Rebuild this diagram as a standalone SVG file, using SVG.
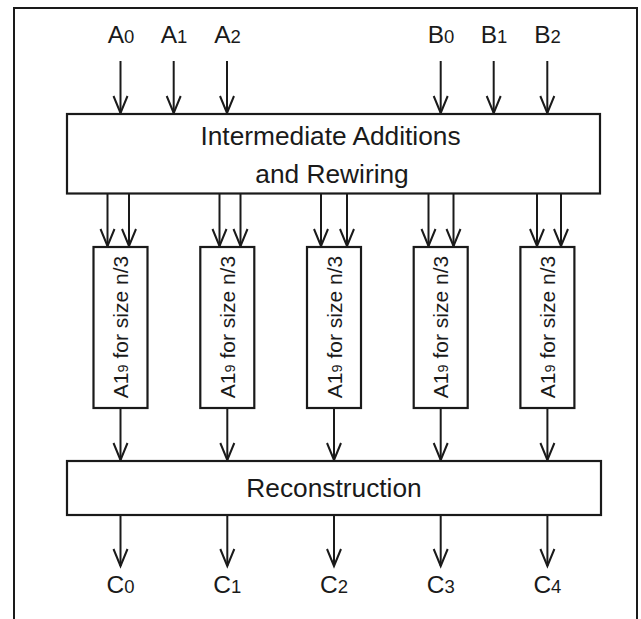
<svg xmlns="http://www.w3.org/2000/svg" width="641" height="619" viewBox="0 0 641 619">
<style>
.box{fill:#fff;stroke:#1a1a1a;stroke-width:2.2}
.frame{fill:none;stroke:#1a1a1a;stroke-width:2}
.conn line{stroke:#1a1a1a;stroke-width:2;marker-end:url(#ah)}
.t{font-family:"Liberation Sans",Arial,sans-serif;fill:#1a1a1a;text-anchor:middle}
.bt{font-size:26.3px}
.lb{font-size:24.5px}
.sub{font-size:18.5px}
.rt{font-size:21px}
.rsub{font-size:14.5px}
</style>
<defs>
<marker id="ah" markerUnits="userSpaceOnUse" markerWidth="40" markerHeight="40" refX="0" refY="0" orient="auto" overflow="visible">
<path d="M-17,-7 L0,0 L-17,7" fill="none" stroke="#1a1a1a" stroke-width="2" stroke-linejoin="miter"/>
</marker>
</defs>
<rect width="641" height="619" fill="#fff"/>
<path class="frame" d="M14,621 L14,8 L637,8 L637,621"/>

<g id="connectors" class="conn">
<line x1="120.5" y1="61" x2="120.5" y2="113"/>
<line x1="173.7" y1="61" x2="173.7" y2="113"/>
<line x1="227" y1="61" x2="227" y2="113"/>
<line x1="440.7" y1="61" x2="440.7" y2="113"/>
<line x1="493.7" y1="61" x2="493.7" y2="113"/>
<line x1="547.3" y1="61" x2="547.3" y2="113"/>

<line x1="107.5" y1="194" x2="107.5" y2="246"/>
<line x1="129" y1="194" x2="129" y2="246"/>
<line x1="219.5" y1="194" x2="219.5" y2="246"/>
<line x1="240.5" y1="194" x2="240.5" y2="246"/>
<line x1="321" y1="194" x2="321" y2="246"/>
<line x1="347" y1="194" x2="347" y2="246"/>
<line x1="428.5" y1="194" x2="428.5" y2="246"/>
<line x1="453.5" y1="194" x2="453.5" y2="246"/>
<line x1="537" y1="194" x2="537" y2="246"/>
<line x1="561" y1="194" x2="561" y2="246"/>

<line x1="120.5" y1="408" x2="120.5" y2="460"/>
<line x1="227.3" y1="408" x2="227.3" y2="460"/>
<line x1="334" y1="408" x2="334" y2="460"/>
<line x1="440.7" y1="408" x2="440.7" y2="460"/>
<line x1="547.4" y1="408" x2="547.4" y2="460"/>

<line x1="120.5" y1="515" x2="120.5" y2="566"/>
<line x1="227.3" y1="515" x2="227.3" y2="566"/>
<line x1="334" y1="515" x2="334" y2="566"/>
<line x1="440.7" y1="515" x2="440.7" y2="566"/>
<line x1="547.4" y1="515" x2="547.4" y2="566"/>
</g>

<g id="inputs">
<text class="t lb" x="121" y="43">A<tspan class="sub">0</tspan></text>
<text class="t lb" x="174" y="43">A<tspan class="sub">1</tspan></text>
<text class="t lb" x="227.5" y="43">A<tspan class="sub">2</tspan></text>
<text class="t lb" x="441" y="43">B<tspan class="sub">0</tspan></text>
<text class="t lb" x="494" y="43">B<tspan class="sub">1</tspan></text>
<text class="t lb" x="547.5" y="43">B<tspan class="sub">2</tspan></text>
</g>

<g id="intermediate">
<rect class="box" x="67" y="114" width="533" height="79.5"/>
<text class="t bt" x="330.5" y="145">Intermediate Additions</text>
<text class="t bt" x="332" y="182.5">and Rewiring</text>
</g>

<g id="sub0">
<rect class="box" x="93.5" y="247" width="54" height="161"/>
<text class="t rt" x="128" y="327" transform="rotate(-90 128 327)">A1<tspan class="rsub">9</tspan> for size n/3</text>
</g>
<g id="sub1">
<rect class="box" x="200.3" y="247" width="54" height="161"/>
<text class="t rt" x="234.8" y="327" transform="rotate(-90 234.8 327)">A1<tspan class="rsub">9</tspan> for size n/3</text>
</g>
<g id="sub2">
<rect class="box" x="307" y="247" width="54" height="161"/>
<text class="t rt" x="341.5" y="327" transform="rotate(-90 341.5 327)">A1<tspan class="rsub">9</tspan> for size n/3</text>
</g>
<g id="sub3">
<rect class="box" x="413.7" y="247" width="54" height="161"/>
<text class="t rt" x="448.2" y="327" transform="rotate(-90 448.2 327)">A1<tspan class="rsub">9</tspan> for size n/3</text>
</g>
<g id="sub4">
<rect class="box" x="520.4" y="247" width="54" height="161"/>
<text class="t rt" x="554.9" y="327" transform="rotate(-90 554.9 327)">A1<tspan class="rsub">9</tspan> for size n/3</text>
</g>

<g id="reconstruction">
<rect class="box" x="67" y="461" width="534" height="54"/>
<text class="t bt" x="334" y="497">Reconstruction</text>
</g>

<g id="outputs">
<text class="t lb" x="120.5" y="592.5">C<tspan class="sub">0</tspan></text>
<text class="t lb" x="227.3" y="592.5">C<tspan class="sub">1</tspan></text>
<text class="t lb" x="334" y="592.5">C<tspan class="sub">2</tspan></text>
<text class="t lb" x="440.7" y="592.5">C<tspan class="sub">3</tspan></text>
<text class="t lb" x="547.4" y="592.5">C<tspan class="sub">4</tspan></text>
</g>
</svg>
